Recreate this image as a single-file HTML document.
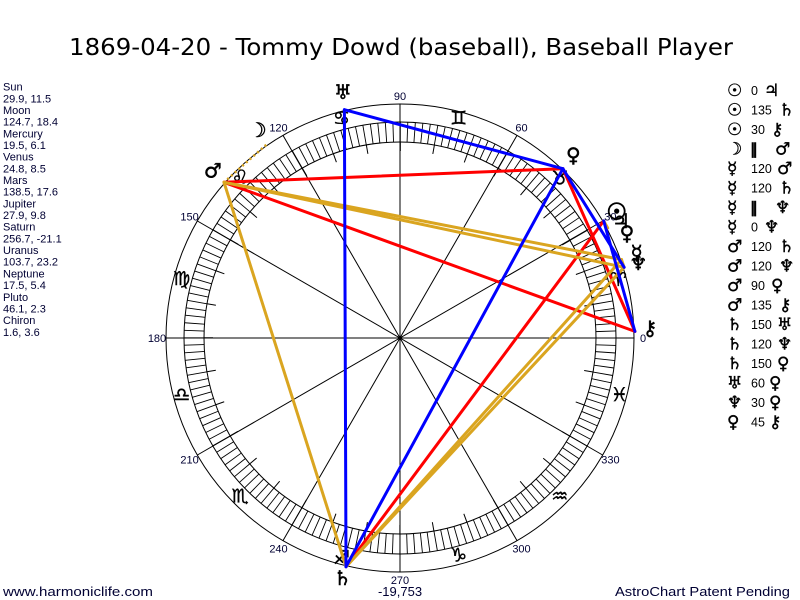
<!DOCTYPE html>
<html><head><meta charset="utf-8"><style>
html,body{margin:0;padding:0;background:#fff;}
svg{display:block;}
.g{font-family:"DejaVu Sans",sans-serif;}
.l{font-family:"Liberation Sans",sans-serif;}
</style></head><body>
<svg width="800" height="600" viewBox="0 0 800 600" xmlns="http://www.w3.org/2000/svg">
<rect width="800" height="600" fill="#fff"/>
<!-- Title -->
<text x="69" y="55" class="g" font-size="23" fill="#000" textLength="664" lengthAdjust="spacingAndGlyphs">1869-04-20 - Tommy Dowd (baseball), Baseball Player</text>

<!-- wheel -->
<g fill="none" stroke="#000" stroke-width="1">
<circle cx="400" cy="338" r="234"/>
<circle cx="400" cy="338" r="216"/>
<circle cx="400" cy="338" r="196"/>
<circle cx="400" cy="338" r="206" stroke-width="20" stroke-dasharray="0.9 6.29076" stroke-dashoffset="0.45"/>
<circle cx="400" cy="338" r="191.5" stroke-width="9" stroke-dasharray="1 32.4231" stroke-dashoffset="0.5"/>
<line x1="166" y1="338" x2="634" y2="338"/>
<line x1="602.6" y1="221" x2="197.4" y2="455"/>
<line x1="517" y1="135.4" x2="283" y2="540.6"/>
<line x1="400" y1="104" x2="400" y2="572"/>
<line x1="283" y1="135.4" x2="517" y2="540.6"/>
<line x1="197.4" y1="221" x2="602.6" y2="455"/>
</g>
<circle cx="400" cy="338" r="2" fill="#000"/>

<!-- degree labels -->
<g class="l" font-size="11" fill="#000033" text-anchor="middle">
<text x="643" y="342">0</text>
<text x="610.4" y="220.5">30</text>
<text x="521.5" y="131.6">60</text>
<text x="400" y="100">90</text>
<text x="278.5" y="131.6">120</text>
<text x="189.6" y="220.5">150</text>
<text x="157" y="342">180</text>
<text x="189.6" y="463.5">210</text>
<text x="278.5" y="552.4">240</text>
<text x="400" y="584">270</text>
<text x="521.5" y="552.4">300</text>
<text x="610.4" y="463.5">330</text>
</g>

<!-- zodiac signs -->
<g class="g" font-size="19" fill="#000" stroke="#000" stroke-width="0.4" text-anchor="middle">
<text x="618.3" y="286">♈&#xFE0E;</text>
<text x="559.8" y="184.7">♉&#xFE0E;</text>
<text x="458.5" y="124.7">♊&#xFE0E;</text>
<text x="341.5" y="124.7">♋&#xFE0E;</text>
<text x="240.2" y="183.7">♌&#xFE0E;</text>
<text x="181.7" y="285">♍&#xFE0E;</text>
<text x="181.7" y="401">♎&#xFE0E;</text>
<text x="240.2" y="502.3">♏&#xFE0E;</text>
<text x="341.5" y="564">♐&#xFE0E;</text>
<text x="458.5" y="561.3">♑&#xFE0E;</text>
<text x="559.8" y="502.3">♒&#xFE0E;</text>
<text x="619.3" y="401">♓&#xFE0E;</text>
</g>

<!-- aspect lines -->
<g fill="none" stroke-width="3" stroke-linecap="round">
<line x1="603.7" y1="220.9" x2="346" y2="566.7" stroke="#ff0000"/>
<line x1="224" y1="182.3" x2="562.9" y2="168.7" stroke="#ff0000"/>
<line x1="224" y1="182.3" x2="634.9" y2="331.4" stroke="#ff0000"/>
<line x1="562.9" y1="168.7" x2="634.9" y2="331.4" stroke="#ff0000"/>
<line x1="621.5" y1="259.6" x2="224" y2="182.3" stroke="#daa520"/>
<line x1="621.5" y1="259.6" x2="346" y2="566.7" stroke="#daa520"/>
<line x1="224" y1="182.3" x2="346" y2="566.7" stroke="#daa520"/>
<line x1="224" y1="182.3" x2="624.1" y2="267.3" stroke="#daa520"/>
<line x1="346" y1="566.7" x2="624.1" y2="267.3" stroke="#daa520"/>
<line x1="603.7" y1="220.9" x2="607.7" y2="228" stroke="#daa520"/>
<line x1="621.5" y1="259.6" x2="624.1" y2="267.3" stroke="#daa520"/>
<line x1="603.7" y1="220.9" x2="634.9" y2="331.4" stroke="#0000ff"/>
<line x1="346" y1="566.7" x2="344.4" y2="109.7" stroke="#0000ff"/>
<line x1="346" y1="566.7" x2="562.9" y2="168.7" stroke="#0000ff"/>
<line x1="344.4" y1="109.7" x2="562.9" y2="168.7" stroke="#0000ff"/>
<line x1="624.1" y1="267.3" x2="562.9" y2="168.7" stroke="#0000ff"/>
<line x1="266.2" y1="144.8" x2="224" y2="182.3" stroke="#daa520" stroke-width="2.5" stroke-dasharray="2 3" stroke-linecap="butt"/>
</g>

<!-- planet glyphs -->
<g class="g" font-size="20" fill="#000" stroke="#000" stroke-width="0.5" text-anchor="middle">
<text x="616.7" y="219.4" font-size="23" stroke-width="1">☉</text>
<text x="257.7" y="137">☽</text>
<text x="636.7" y="259.5">☿</text>
<text x="627" y="240">♀</text>
<text x="212.8" y="177.4">♂</text>
<text x="621" y="228">♃</text>
<text x="342.5" y="585">♄</text>
<text x="343" y="99">♅</text>
<text x="638.4" y="269.8">♆</text>
<text x="573.3" y="161.9">♀</text>
<text x="649.9" y="335">⚷</text>
</g>

<!-- left list -->
<g class="l" font-size="11" fill="#000033">
<text x="3" y="90.7">Sun</text>
<text x="3" y="102.4">29.9, 11.5</text>
<text x="3" y="114">Moon</text>
<text x="3" y="125.7">124.7, 18.4</text>
<text x="3" y="137.4">Mercury</text>
<text x="3" y="149">19.5, 6.1</text>
<text x="3" y="160.7">Venus</text>
<text x="3" y="172.4">24.8, 8.5</text>
<text x="3" y="184.1">Mars</text>
<text x="3" y="195.7">138.5, 17.6</text>
<text x="3" y="207.4">Jupiter</text>
<text x="3" y="219.1">27.9, 9.8</text>
<text x="3" y="230.7">Saturn</text>
<text x="3" y="242.4">256.7, -21.1</text>
<text x="3" y="254.1">Uranus</text>
<text x="3" y="265.7">103.7, 23.2</text>
<text x="3" y="277.4">Neptune</text>
<text x="3" y="289.1">17.5, 5.4</text>
<text x="3" y="300.8">Pluto</text>
<text x="3" y="312.4">46.1, 2.3</text>
<text x="3" y="324.1">Chiron</text>
<text x="3" y="335.8">1.6, 3.6</text>
</g>

<!-- right aspect list -->
<g class="g" font-size="17" fill="#000" stroke="#000" stroke-width="0.4">
<text x="727" y="96">☉</text><text x="751" y="95" class="l" font-size="12.5" stroke="none">0</text><text x="764" y="96">♃</text>
<text x="727" y="115.5">☉</text><text x="751" y="114.5" class="l" font-size="12.5" stroke="none">135</text><text x="779" y="115.5">♄</text>
<text x="727" y="135">☉</text><text x="751" y="134" class="l" font-size="12.5" stroke="none">30</text><text x="771" y="135">⚷</text>
<text x="727" y="154.5">☽</text><text x="750" y="154" font-weight="bold" font-size="15">‖</text><text x="775" y="154.5">♂</text>
<text x="727" y="174">☿</text><text x="751" y="173" class="l" font-size="12.5" stroke="none">120</text><text x="777" y="174">♂</text>
<text x="727" y="193.5">☿</text><text x="751" y="192.5" class="l" font-size="12.5" stroke="none">120</text><text x="779" y="193.5">♄</text>
<text x="727" y="213">☿</text><text x="750" y="212.5" font-weight="bold" font-size="15">‖</text><text x="775" y="213">♆</text>
<text x="727" y="232.5">☿</text><text x="751" y="231.5" class="l" font-size="12.5" stroke="none">0</text><text x="764" y="232.5">♆</text>
<text x="727" y="252">♂</text><text x="751" y="251" class="l" font-size="12.5" stroke="none">120</text><text x="779" y="252">♄</text>
<text x="727" y="271.5">♂</text><text x="751" y="270.5" class="l" font-size="12.5" stroke="none">120</text><text x="779" y="271.5">♆</text>
<text x="727" y="291">♂</text><text x="751" y="290" class="l" font-size="12.5" stroke="none">90</text><text x="771" y="291">♀</text>
<text x="727" y="310.5">♂</text><text x="751" y="309.5" class="l" font-size="12.5" stroke="none">135</text><text x="779" y="310.5">⚷</text>
<text x="727" y="330">♄</text><text x="751" y="329" class="l" font-size="12.5" stroke="none">150</text><text x="777" y="330">♅</text>
<text x="727" y="349.5">♄</text><text x="751" y="348.5" class="l" font-size="12.5" stroke="none">120</text><text x="777" y="349.5">♆</text>
<text x="727" y="369">♄</text><text x="751" y="368" class="l" font-size="12.5" stroke="none">150</text><text x="777" y="369">♀</text>
<text x="727" y="388.5">♅</text><text x="751" y="387.5" class="l" font-size="12.5" stroke="none">60</text><text x="769" y="388.5">♀</text>
<text x="727" y="408">♆</text><text x="751" y="407" class="l" font-size="12.5" stroke="none">30</text><text x="769" y="408">♀</text>
<text x="727" y="427.5">♀</text><text x="751" y="426.5" class="l" font-size="12.5" stroke="none">45</text><text x="769" y="427.5">⚷</text>
</g>

<!-- bottom -->
<g class="l" font-size="13" fill="#000033">
<text x="3" y="596" textLength="150" lengthAdjust="spacingAndGlyphs">www.harmoniclife.com</text>
<text x="400" y="596" text-anchor="middle">-19,753</text>
<text x="615" y="596" textLength="175" lengthAdjust="spacingAndGlyphs">AstroChart Patent Pending</text>
</g>
</svg>
</body></html>
